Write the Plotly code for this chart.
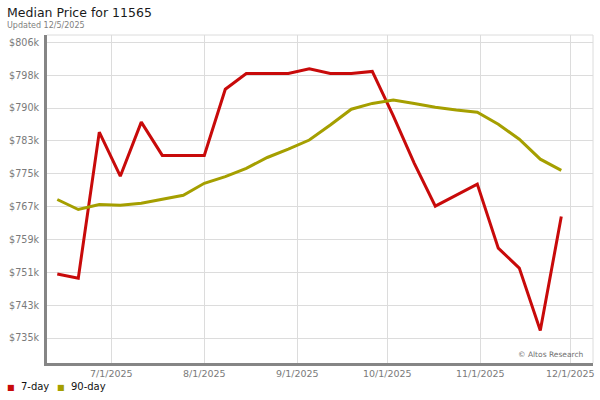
import plotly.graph_objects as go
import pandas as pd

# ---- data ----
dates = pd.date_range("2025-06-13", "2025-11-28", freq="7D")
seven_day = [750.5, 749.5, 784.6, 774.0, 787.0, 779.0, 779.0, 779.0, 794.9, 798.7,
             798.7, 798.7, 799.8, 798.7, 798.7, 799.2, 788.5, 777.1, 766.8, 769.4,
             772.1, 756.7, 751.9, 736.9, 764.3]
ninety_day = [768.4, 766.0, 767.2, 767.0, 767.5, 768.4, 769.4, 772.3, 773.9, 775.9,
              778.5, 780.5, 782.7, 786.3, 790.1, 791.5, 792.3, 791.5, 790.6, 789.9,
              789.4, 786.5, 782.9, 778.1, 775.4]
series_names = ["7-day", "90-day"]
series_colors = ["#C80A0A", "#A59F00"]

y_tick_vals = [735100 + 7900 * i for i in range(10)]
y_tick_text = ["$735k", "$743k", "$751k", "$759k", "$767k", "$775k", "$783k",
               "$790k", "$798k", "$806k"]
x_tick_vals = ["2025-07-01", "2025-08-01", "2025-09-01", "2025-10-01",
               "2025-11-01", "2025-12-01"]
x_tick_text = ["7/1/2025", "8/1/2025", "9/1/2025", "10/1/2025", "11/1/2025", "12/1/2025"]

FONT = "DejaVu Sans"
GRID = "#dcdcdc"
TICK_COLOR = "#7a7a7a"

fig = go.Figure()
for name, vals, col in zip(series_names, [seven_day, ninety_day], series_colors):
    fig.add_trace(go.Scatter(
        x=dates, y=[v * 1000 for v in vals], mode="lines", name=name,
        line=dict(color=col, width=3), showlegend=False,
    ))

fig.update_layout(
    width=600, height=400,
    margin=dict(l=47, r=7, t=35, b=37, autoexpand=False),
    paper_bgcolor="white", plot_bgcolor="white",
    font=dict(family=FONT, size=10, color=TICK_COLOR),
    showlegend=False,
)
fig.update_xaxes(
    range=["2025-06-09 13:40", "2025-12-08 13:40"],
    tickvals=x_tick_vals, ticktext=x_tick_text, automargin=False,
    showgrid=True, gridcolor=GRID, gridwidth=1,
    showline=True, linecolor="#858585", linewidth=3,
    ticks="", tickfont=dict(family=FONT, size=9.5, color=TICK_COLOR),
    zeroline=False,
)
fig.update_yaxes(
    range=[729090, 807950],
    tickvals=y_tick_vals, ticktext=y_tick_text, automargin=False,
    showgrid=True, gridcolor=GRID, gridwidth=1,
    showline=True, linecolor="#858585", linewidth=3,
    ticks="", tickfont=dict(family=FONT, size=9.6, color=TICK_COLOR),
    ticklabelstandoff=3,
    zeroline=False,
)
# light frame on top and right
fig.add_shape(type="line", xref="paper", yref="paper", x0=0, x1=1, y0=1, y1=1,
              line=dict(color=GRID, width=1))
fig.add_shape(type="line", xref="paper", yref="paper", x0=1, x1=1, y0=0, y1=1,
              line=dict(color=GRID, width=1))

# titles
fig.add_annotation(text="Median Price for 11565", xref="paper", yref="paper",
                   x=-42/546, y=1 + (35 - 13) / 328, xanchor="left", yanchor="middle",
                   showarrow=False, font=dict(family=FONT, size=12.5, color="#1a1a1a"))
fig.add_annotation(text="Updated 12/5/2025", xref="paper", yref="paper",
                   x=-42/546, y=1 + (35 - 25.5) / 328, xanchor="left", yanchor="middle",
                   showarrow=False, font=dict(family=FONT, size=8, color="#808080"))
fig.add_annotation(text="© Altos Research", xref="paper", yref="paper",
                   x=1 - 7/546, y=(363 - 354) / 328, xanchor="right", yanchor="middle",
                   showarrow=False, font=dict(family=FONT, size=7.5, color="#707070"))

# legend
legend_x = [5, 55]
for name, col, lx in zip(series_names, series_colors, legend_x):
    fig.add_annotation(
        text=f"<span style='color:{col};font-size:8px'>■</span>  {name}",
        xref="paper", yref="paper", x=(lx - 47) / 546, y=-(386 - 363) / 328,
        xanchor="left", yanchor="middle", showarrow=False,
        font=dict(family=FONT, size=10, color="#111111"))

fig.write_html("out.html", config={"displayModeBar": False},
               post_script="document.body.style.margin='0px';")
